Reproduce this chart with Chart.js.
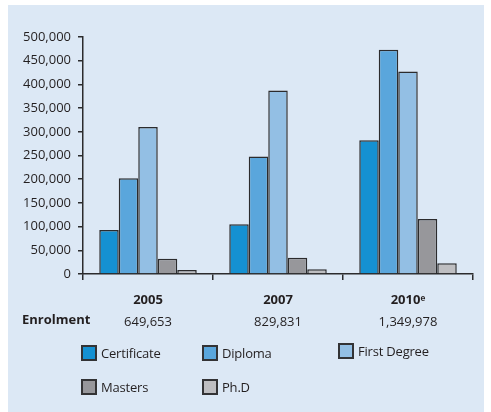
<!DOCTYPE html>
<html>
<head>
<meta charset="utf-8">
<script src="https://cdn.jsdelivr.net/npm/chart.js@4.4.1/dist/chart.umd.min.js"></script>
<style>
  html, body { margin: 0; padding: 0; background: #ffffff; }
  #panel {
    position: absolute; left: 8px; top: 5px; width: 476px; height: 407px;
    background: #dce8f5;
  }
  #wrap { position: absolute; left: 0; top: 0; width: 491px; height: 412px; }
  #legend { position: absolute; left: 0; top: 0; width: 491px; height: 412px; pointer-events: none; }
  .item {
    position: absolute; display: flex; align-items: center;
    font: 13px "Open Sans", sans-serif; color: #231f20; letter-spacing: -0.2px;
  }
  .box {
    width: 12px; height: 12px; border: 2px solid #333335; margin-right: 4px;
  }
</style>
</head>
<body>
<div id="panel"></div>
<div id="wrap"><canvas id="chart" width="491" height="412"></canvas></div>
<div id="legend"></div>
<script>
const years = ["2005", "2007", "2010\u1d49"]
const enrolment = ["649,653", "829,831", "1,349,978"]
const series = ["Certificate", "Diploma", "First Degree", "Masters", "Ph.D"]
const certificate = [93000, 105000, 282000]
const diploma = [202000, 248000, 473000]
const firstDegree = [310000, 387000, 427000]
const masters = [32000, 34500, 116000]
const phd = [8500, 10000, 22500]
const yTicks = [0, 50000, 100000, 150000, 200000, 250000, 300000, 350000, 400000, 450000, 500000]

const colors = ["#1591d2", "#5aa6dc", "#93bfe4", "#97979b", "#bebec1"]
const legendSpots = [
  { left: 81, top: 344 },
  { left: 202, top: 344 },
  { left: 338, top: 342 },
  { left: 81, top: 378 },
  { left: 202, top: 378 },
]

const textColor = "#231f20"
const axisColor = "#2b2b2d"
const fontFamily = "'Open Sans', sans-serif"

const enrolmentLabel = {
  id: "enrolmentLabel",
  afterDraw(chart) {
    const s = chart.scales.x2
    const ctx = chart.ctx
    ctx.save()
    ctx.font = "bold 13px " + fontFamily
    ctx.fillStyle = textColor
    ctx.textAlign = "left"
    ctx.textBaseline = "top"
    ctx.fillText("Enrolment", 22, s.top + 4)
    ctx.restore()
  },
}

const values = [certificate, diploma, firstDegree, masters, phd]

const chart = new Chart(document.getElementById("chart"), {
  type: "bar",
  plugins: [enrolmentLabel],
  data: {
    labels: years,
    datasets: series.map((name, i) => ({
      label: name,
      data: values[i],
      backgroundColor: colors[i],
      borderColor: axisColor,
      borderWidth: 1.5,
      categoryPercentage: 0.75,
      barPercentage: 1.0,
    })),
  },
  options: {
    responsive: false,
    animation: false,
    devicePixelRatio: 1,
    layout: {
      padding: { top: 37, right: 18, left: 0, bottom: 0 },
    },
    plugins: {
      legend: { display: false },
      tooltip: { enabled: false },
    },
    scales: {
      x: {
        position: "bottom",
        grid: {
          drawOnChartArea: false,
          drawTicks: true,
          tickLength: 6,
          color: axisColor,
          lineWidth: 1.5,
        },
        border: { color: axisColor, width: 1.5 },
        ticks: {
          color: textColor,
          padding: 12,
          font: { family: fontFamily, size: 13, weight: "bold" },
        },
        afterFit: (scale) => {
          scale.height = 36
        },
      },
      x2: {
        type: "category",
        position: "bottom",
        labels: enrolment,
        offset: true,
        grid: { display: false, drawTicks: false },
        border: { display: false },
        ticks: {
          color: textColor,
          padding: 4,
          font: { family: fontFamily, size: 13 },
        },
        afterFit: (scale) => {
          scale.height = 102
        },
      },
      y: {
        min: 0,
        max: 500000,
        afterBuildTicks: (scale) => {
          scale.ticks = yTicks.map((v) => ({ value: v }))
        },
        grid: {
          drawOnChartArea: false,
          drawTicks: true,
          tickLength: 5,
          color: axisColor,
          lineWidth: 1.5,
        },
        border: { color: axisColor, width: 1.5 },
        ticks: {
          color: textColor,
          padding: 7,
          font: { family: fontFamily, size: 13 },
          callback: (v) => v.toLocaleString("en-US"),
        },
        afterFit: (scale) => {
          scale.width = 83
        },
      },
    },
  },
})

// html legend built from the datasets
const legendEl = document.getElementById("legend")
chart.data.datasets.forEach((ds, i) => {
  const item = document.createElement("div")
  item.className = "item"
  item.style.left = legendSpots[i].left + "px"
  item.style.top = legendSpots[i].top + "px"
  const box = document.createElement("span")
  box.className = "box"
  box.style.background = ds.backgroundColor
  const txt = document.createElement("span")
  txt.textContent = ds.label
  item.appendChild(box)
  item.appendChild(txt)
  legendEl.appendChild(item)
})
</script>
</body>
</html>
